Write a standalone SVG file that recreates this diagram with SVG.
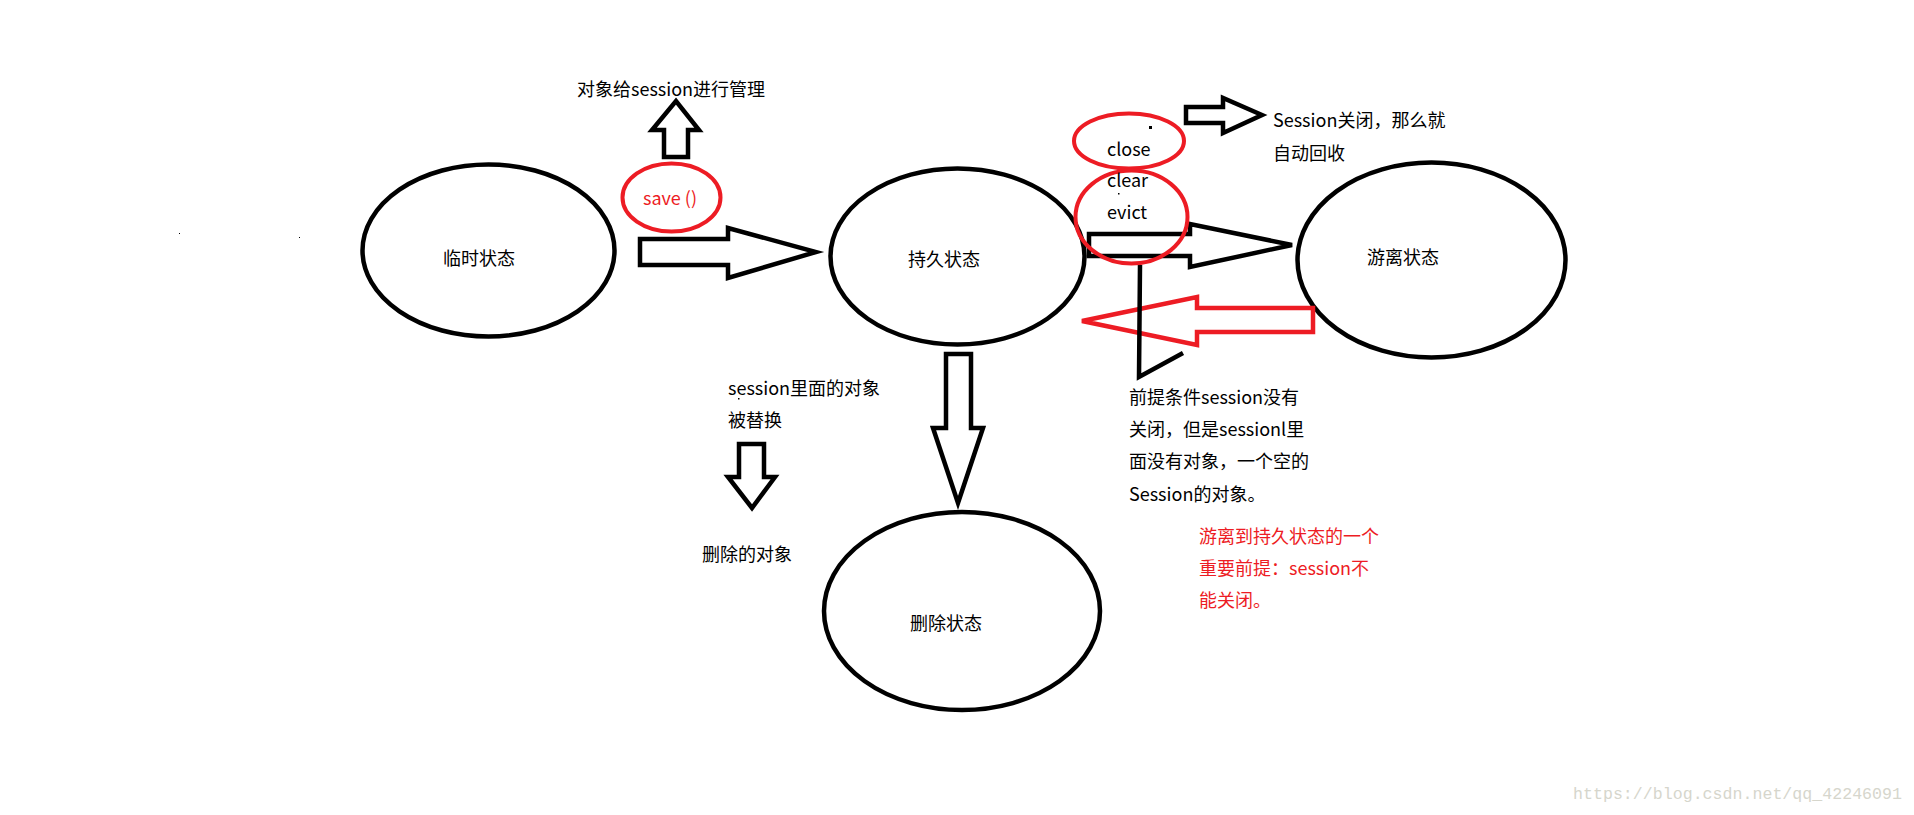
<svg xmlns="http://www.w3.org/2000/svg" width="1914" height="815" viewBox="0 0 1914 815">
<style>
.bg{fill:#ffffff}
.node{fill:none;stroke:#000;stroke-width:4.5}
.red{fill:none;stroke:#ed1c24;stroke-width:4}
.arr{fill:none;stroke:#000;stroke-width:4.5;stroke-linejoin:miter}
.arr-red{fill:none;stroke:#ed1c24;stroke-width:4.5;stroke-linejoin:miter}
.t{font-family:"Microsoft YaHei","Noto Sans CJK SC","Noto Sans",sans-serif;font-size:18px;fill:#000}
.tr{font-family:"Microsoft YaHei","Noto Sans CJK SC","Noto Sans",sans-serif;font-size:18px;fill:#ed1c24}
.c{dominant-baseline:central}
.wm{font-family:"Liberation Mono","DejaVu Sans Mono",monospace;font-size:16.6px;fill:#d6d6cc}
</style>
<rect class="bg" x="0" y="0" width="1914" height="815"/>

<g id="node-temp">
<ellipse class="node" cx="488.5" cy="250.5" rx="126" ry="86"/>
<text class="t c" x="443" y="257">临时状态</text>
</g>

<g id="node-persistent">
<ellipse class="node" cx="957.5" cy="256.5" rx="127" ry="88"/>
<text class="t c" x="908" y="258">持久状态</text>
</g>

<g id="node-detached">
<ellipse class="node" cx="1431.5" cy="260" rx="134" ry="97.5"/>
<text class="t c" x="1367" y="256">游离状态</text>
</g>

<g id="node-deleted">
<ellipse class="node" cx="962" cy="611" rx="138" ry="99"/>
<text class="t c" x="910" y="622">删除状态</text>
</g>

<g id="connectors">
<polygon class="arr" points="640,239 728,239 728,228 816,252 728,278 728,265 640,265"/>
<polygon class="arr" points="664,157 664,130 652,130 676,101 699,130 688,130 688,157"/>
<polygon class="arr" points="1186,107 1223,107 1223,98 1262,115 1223,133 1223,123 1186,123"/>
<polygon class="arr" points="1089,234 1190,234 1190,224 1292,245 1190,267 1190,256 1089,256"/>
<polygon class="arr-red" points="1313,308 1197,308 1197,297 1082,321 1197,345 1197,332 1313,332"/>
<polygon class="arr" points="946,354 971,354 971,428 983,428 958,503 933,428 946,428"/>
<polygon class="arr" points="739,444 764,444 764,477 775,477 752,508 728,477 739,477"/>
<polyline class="arr" points="1140,265 1139,377 1183,353"/>
</g>

<g id="save-label">
<ellipse class="red" cx="671.5" cy="197.5" rx="49" ry="34"/>
<text class="tr c" x="643" y="197">save ()</text>
</g>

<g id="close-label">
<ellipse class="red" cx="1129" cy="141" rx="55" ry="27.5"/>
<text class="t" x="1107" y="156">close</text>
</g>

<g id="clear-evict-label">
<ellipse class="red" cx="1131.5" cy="217" rx="56" ry="46.5"/>
<text class="t" x="1107" y="187">clear</text>
<text class="t" x="1107" y="219">evict</text>
</g>

<g id="texts">
<text class="t c" x="577" y="88">对象给session进行管理</text>
<text class="t c" x="1273" y="119">Session关闭，那么就</text>
<text class="t c" x="1273" y="152">自动回收</text>
<text class="t c" x="728" y="387">session里面的对象</text>
<text class="t c" x="728" y="419">被替换</text>
<text class="t c" x="702" y="553">删除的对象</text>
<text class="t c" x="1129" y="396">前提条件session没有</text>
<text class="t c" x="1129" y="428">关闭，但是sessionl里</text>
<text class="t c" x="1129" y="460">面没有对象，一个空的</text>
<text class="t c" x="1129" y="493">Session的对象。</text>
<text class="tr c" x="1199" y="535">游离到持久状态的一个</text>
<text class="tr c" x="1199" y="567">重要前提：session不</text>
<text class="tr c" x="1199" y="599">能关闭。</text>
<text class="wm c" x="1573" y="794" textLength="329">https://blog.csdn.net/qq_42246091</text>
</g>

<g id="specks">
<rect x="1149" y="126" width="3" height="3" fill="#000"/>
<rect x="1118" y="193" width="1.5" height="1.5" fill="#000"/>
<rect x="738" y="398" width="1.5" height="1.5" fill="#000"/>
<rect x="179" y="233" width="1" height="1" fill="#000"/>
<rect x="299" y="237" width="1" height="1" fill="#000"/>
</g>
</svg>
